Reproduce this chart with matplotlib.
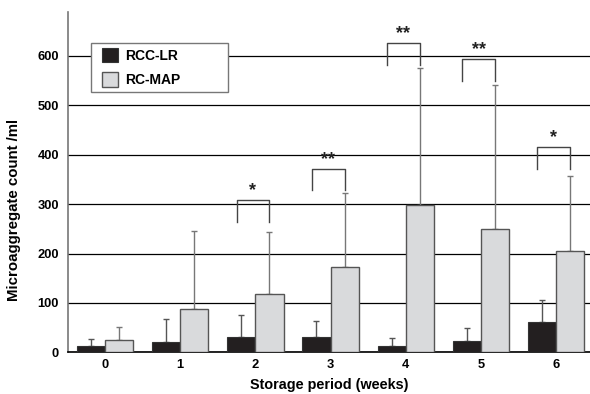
import matplotlib
matplotlib.use("Agg")
import matplotlib.pyplot as plt
from matplotlib.patches import Rectangle
import numpy as np

plt.rcParams['font.family'] = ['Liberation Sans', 'DejaVu Sans']

weeks = [0, 1, 2, 3, 4, 5, 6]
week_labels = ['0', '1', '2', '3', '4', '5', '6']
rcc_lr_mean = [12, 21, 31, 31, 13, 23, 61]
rcc_lr_sd = [15, 46, 44, 32, 16, 26, 44]
rc_map_mean = [25, 87, 119, 172, 299, 249, 205]
rc_map_sd = [27, 159, 125, 150, 277, 293, 152]
sig_labels = ['', '', '*', '**', '**', '**', '*']
sig_bracket_top = [None, None, 308, 372, 626, 593, 415]
yticks = [0, 100, 200, 300, 400, 500, 600]

fig = plt.figure(figsize=(5.9, 3.94), dpi=100)
ax = fig.add_axes([0.1153, 0.1058, 0.8847, 0.8637])

x = np.array(weeks, dtype=float)
w = 0.375
black = '#231f20'
grey = '#d9dadc'

ax.bar(x - w / 2, rcc_lr_mean, width=w, color=black, edgecolor='#333333',
       linewidth=0.8, label='RCC-LR', zorder=3)
ax.bar(x + w / 2, rc_map_mean, width=w, color=grey, edgecolor='#555555',
       linewidth=1.0, label='RC-MAP', zorder=3)
ax.errorbar(x - w / 2, rcc_lr_mean, yerr=[np.zeros(len(x)), rcc_lr_sd],
            fmt='none', ecolor='#555555', elinewidth=1.0, capsize=2.5,
            capthick=1.0, zorder=2)
ax.errorbar(x + w / 2, rc_map_mean, yerr=[np.zeros(len(x)), rc_map_sd],
            fmt='none', ecolor='#777777', elinewidth=1.0, capsize=2.5,
            capthick=1.0, zorder=2)

for xi, lab, top in zip(x, sig_labels, sig_bracket_top):
    if top is None:
        continue
    x0 = xi - 0.25
    x1 = xi + w / 2
    ax.plot([x0, x0, x1, x1], [top - 44, top, top, top - 44],
            color='#444444', lw=1.0, zorder=4)
    ax.text((x0 + x1) / 2, top + 2, lab, ha='center', va='bottom',
            fontsize=13, fontweight='bold', color='#222222')

ax.set_xlim(-0.49, 6.45)
ax.set_ylim(0, 689)
ax.set_yticks(yticks)
ax.set_yticklabels([str(v) for v in yticks], fontsize=9.3, fontweight='bold')
ax.set_xticks(x)
ax.set_xticklabels(week_labels, fontsize=9.3, fontweight='bold')
ax.tick_params(axis='y', length=0, pad=6.5)
ax.tick_params(axis='x', length=0, pad=5)
ax.yaxis.grid(True, color='black', linewidth=0.9, zorder=0)
ax.set_axisbelow(True)

for s in ['top', 'right']:
    ax.spines[s].set_visible(False)
ax.spines['left'].set_color('#777777')
ax.spines['left'].set_linewidth(1.2)
ax.spines['bottom'].set_color('black')
ax.spines['bottom'].set_linewidth(1.2)

ax.set_xlabel('Storage period (weeks)', fontsize=10.4, fontweight='bold', labelpad=5)
ax.set_ylabel('Microaggregate count /ml', fontsize=10.8, fontweight='bold')
ax.yaxis.set_label_coords(-0.090, 0.419)

# legend frame (wider than its content, as in the reference)
box = Rectangle((0.0435, 0.765), 0.2625, 0.143, transform=ax.transAxes,
                facecolor='white', edgecolor='#777777', linewidth=1.0, zorder=5)
ax.add_patch(box)
leg = ax.legend(loc='upper left', bbox_to_anchor=(0.0646, 0.895), borderaxespad=0,
                frameon=False, handlelength=1.2, handleheight=1.2,
                labelspacing=0.7, borderpad=0.0, handletextpad=0.5,
                prop={'weight': 'bold', 'size': 10})
leg.set_zorder(6)

fig.savefig('out.png', dpi=100)
